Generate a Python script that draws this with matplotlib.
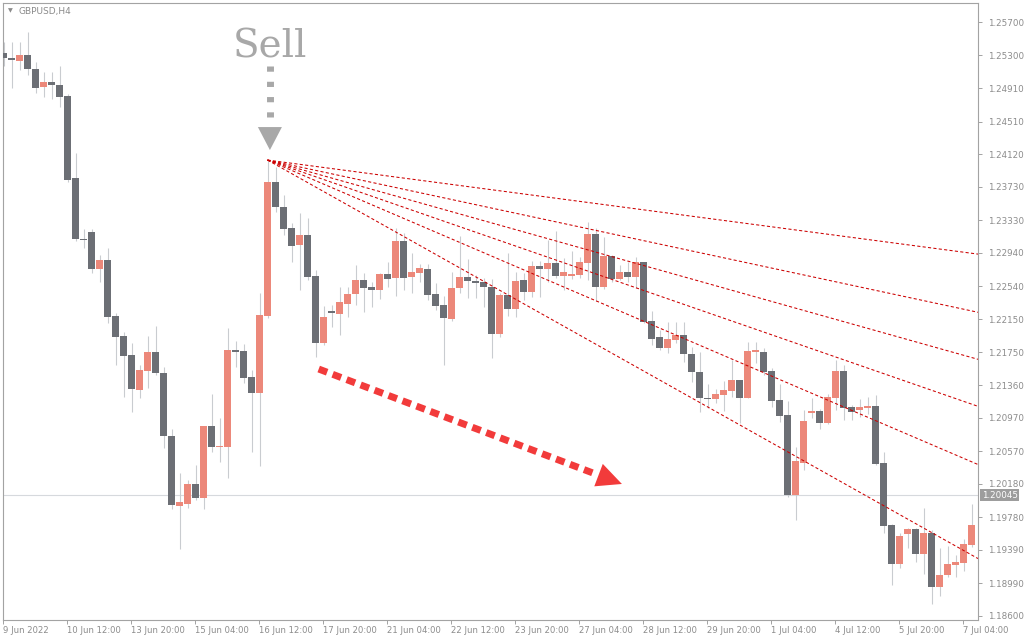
import numpy as np
import matplotlib
matplotlib.use("Agg")
import matplotlib.pyplot as plt
from matplotlib.patches import Polygon

# GBPUSD H4 candles, oldest first (bar 0 = 9 Jun 2022)
opens = [1.25329, 1.25269, 1.25234, 1.25305, 1.25138, 1.24923, 1.24983, 1.24947, 1.24815, 1.23835,
         1.23106, 1.23190, 1.22747, 1.22855, 1.22186, 1.21946, 1.21719, 1.21301, 1.21528, 1.21755,
         1.21504, 1.20751, 1.19915, 1.19939, 1.20178, 1.20011, 1.20871, 1.20620, 1.20620, 1.21779,
         1.21767, 1.21457, 1.21265, 1.22186, 1.23787, 1.23489, 1.23237, 1.23034, 1.23154, 1.22664,
         1.21863, 1.22246, 1.22210, 1.22329, 1.22449, 1.22616, 1.22532, 1.22497, 1.22688, 1.22640,
         1.23082, 1.22652, 1.22700, 1.22747, 1.22449, 1.22317, 1.22150, 1.22520, 1.22652, 1.22604,
         1.22592, 1.22532, 1.21970, 1.22437, 1.22270, 1.22616, 1.22473, 1.22783, 1.22747, 1.22819,
         1.22664, 1.22664, 1.22676, 1.22819, 1.23166, 1.22532, 1.22903, 1.22628, 1.22712, 1.22652,
         1.22831, 1.22126, 1.21934, 1.21803, 1.21899, 1.21958, 1.21731, 1.21516, 1.21205, 1.21194,
         1.21241, 1.21289, 1.21421, 1.21205, 1.21755, 1.21755, 1.21528, 1.21182, 1.21003, 1.20046,
         1.20429, 1.21026, 1.21050, 1.20907, 1.21205, 1.21528, 1.21098, 1.21062, 1.21086, 1.21110,
         1.20429, 1.19687, 1.19221, 1.19580, 1.19640, 1.19341, 1.19592, 1.18946, 1.19090, 1.19209,
         1.19233, 1.19448]
highs = [1.25461, 1.25461, 1.25461, 1.25580, 1.25222, 1.25102, 1.25102, 1.25174, 1.24839, 1.24134,
         1.23225, 1.23225, 1.22915, 1.22998, 1.22222, 1.21994, 1.21863, 1.21600, 1.21946, 1.22066,
         1.21576, 1.20835, 1.20309, 1.20226, 1.20405, 1.20871, 1.21253, 1.20967, 1.22042, 1.21887,
         1.21851, 1.21540, 1.22461, 1.24050, 1.23967, 1.23632, 1.23297, 1.23417, 1.23357, 1.22736,
         1.22305, 1.22317, 1.22532, 1.22532, 1.22795, 1.22700, 1.22592, 1.22700, 1.22831, 1.23237,
         1.23178, 1.22939, 1.22807, 1.22807, 1.22580, 1.22425, 1.22712, 1.23142, 1.22867, 1.22676,
         1.22640, 1.22628, 1.22461, 1.22939, 1.22712, 1.22700, 1.22843, 1.22843, 1.23094, 1.23202,
         1.22879, 1.22963, 1.22891, 1.23309, 1.23237, 1.23130, 1.22915, 1.22795, 1.22831, 1.22891,
         1.22831, 1.22246, 1.22018, 1.22114, 1.22114, 1.22114, 1.21815, 1.21755, 1.21373, 1.21313,
         1.21409, 1.21660, 1.21421, 1.21875, 1.21875, 1.21803, 1.21564, 1.21373, 1.21170, 1.20620,
         1.21062, 1.21205, 1.21074, 1.21253, 1.21660, 1.21600, 1.21122, 1.21194, 1.21217, 1.21241,
         1.20560, 1.19699, 1.19592, 1.19652, 1.19652, 1.19891, 1.19628, 1.19413, 1.19436, 1.19329,
         1.19520, 1.19939]
lows = [1.25174, 1.24911, 1.25126, 1.25066, 1.24851, 1.24803, 1.24779, 1.24684, 1.23787, 1.23082,
        1.22998, 1.22700, 1.22592, 1.22102, 1.21600, 1.21217, 1.21038, 1.21205, 1.21325, 1.21480,
        1.20608, 1.19879, 1.19401, 1.19891, 1.19987, 1.19879, 1.20560, 1.20441, 1.20250, 1.21576,
        1.21385, 1.20560, 1.20393, 1.22162, 1.23429, 1.23154, 1.22831, 1.22497, 1.22616, 1.21695,
        1.21839, 1.22054, 1.21958, 1.22174, 1.22317, 1.22234, 1.22293, 1.22389, 1.22532, 1.22425,
        1.22497, 1.22461, 1.22592, 1.22377, 1.22258, 1.21600, 1.22126, 1.22461, 1.22401, 1.22401,
        1.22293, 1.21683, 1.21934, 1.22186, 1.22174, 1.22377, 1.22413, 1.22413, 1.22592, 1.22640,
        1.22497, 1.22628, 1.22640, 1.22616, 1.22365, 1.22509, 1.22592, 1.22616, 1.22592, 1.22520,
        1.22102, 1.21839, 1.21779, 1.21743, 1.21863, 1.21636, 1.21397, 1.21038, 1.21086, 1.21146,
        1.21050, 1.21217, 1.20907, 1.21205, 1.21624, 1.21480, 1.21098, 1.20919, 1.20022, 1.19747,
        1.20345, 1.20967, 1.20835, 1.20895, 1.21062, 1.20943, 1.20943, 1.20979, 1.21014, 1.20405,
        1.19592, 1.18970, 1.19174, 1.19412, 1.19245, 1.19102, 1.18743, 1.18839, 1.19066, 1.19066,
        1.19138, 1.19424]
closes = [1.25269, 1.25246, 1.25305, 1.25138, 1.24911, 1.24983, 1.24947, 1.24803, 1.23811, 1.23106,
          1.23094, 1.22747, 1.22855, 1.22174, 1.21934, 1.21707, 1.21313, 1.21540, 1.21755, 1.21504,
          1.20751, 1.19927, 1.19963, 1.20178, 1.20011, 1.20871, 1.20620, 1.20632, 1.21779, 1.21755,
          1.21445, 1.21265, 1.22198, 1.23787, 1.23489, 1.23225, 1.23022, 1.23154, 1.22652, 1.21863,
          1.22174, 1.22222, 1.22353, 1.22449, 1.22616, 1.22520, 1.22497, 1.22688, 1.22628, 1.23082,
          1.22640, 1.22712, 1.22759, 1.22437, 1.22305, 1.22162, 1.22520, 1.22652, 1.22604, 1.22580,
          1.22532, 1.21970, 1.22437, 1.22270, 1.22604, 1.22473, 1.22783, 1.22747, 1.22819, 1.22664,
          1.22712, 1.22688, 1.22831, 1.23166, 1.22532, 1.22903, 1.22628, 1.22712, 1.22652, 1.22831,
          1.22114, 1.21911, 1.21803, 1.21911, 1.21958, 1.21731, 1.21516, 1.21205, 1.21194, 1.21253,
          1.21301, 1.21421, 1.21205, 1.21767, 1.21779, 1.21516, 1.21170, 1.20991, 1.20046, 1.20453,
          1.20931, 1.21050, 1.20907, 1.21217, 1.21528, 1.21086, 1.21038, 1.21098, 1.21110, 1.20417,
          1.19675, 1.19221, 1.19556, 1.19640, 1.19341, 1.19592, 1.18946, 1.19090, 1.19221, 1.19245,
          1.19460, 1.19687]

price_labels = ['1.25700', '1.25300', '1.24910', '1.24510', '1.24120', '1.23730', '1.23330',
                '1.22940', '1.22540', '1.22150', '1.21750', '1.21360', '1.20970', '1.20570',
                '1.20180', '1.19780', '1.19390', '1.18990', '1.18600']
time_labels = ['9 Jun 2022', '10 Jun 12:00', '13 Jun 20:00', '15 Jun 04:00', '16 Jun 12:00',
               '17 Jun 20:00', '21 Jun 04:00', '22 Jun 12:00', '23 Jun 20:00', '27 Jun 04:00',
               '28 Jun 12:00', '29 Jun 20:00', '1 Jul 04:00', '4 Jul 12:00', '5 Jul 20:00',
               '7 Jul 04:00']
bars_per_label = 8
last_price = 1.20045

# fibo fan drawn from the sell high
fan_start = (33, 1.24050)
fan_end = (121, 1.19330)
fan_levels = [0.236, 0.382, 0.5, 0.618, 0.764, 1.0]

# the big "trend" arrow (bar index, price)
trend_from = (39.4, 1.21552)
trend_to = (77.3, 1.20178)
sell_bar = 33.3

BEAR = '#6c6f75'
BULL = '#ec887a'
WICK = '#c9ccd0'
FRAME = '#a3a3a3'
TXT = '#8c8c8c'
RED = '#f23b3b'
GREY_ARROW = '#a8a8a8'

fig = plt.figure(figsize=(10.24, 6.4), dpi=100)
fig.patch.set_facecolor('white')
ax = fig.add_axes([2.7 / 1024, 20.5 / 640, 975.3 / 1024, 616.8 / 640])
ax.set_xlim(-0.1, 121.81)
ax.set_ylim(1.18558, 1.25931)

n = len(opens)
idx = np.arange(n)
o = np.array(opens)
c = np.array(closes)
bull = c > o
cols = [BULL if b else BEAR for b in bull]
bottoms = np.minimum(o, c)
heights = np.maximum(np.abs(c - o), 0.0001)

ax.axhline(last_price, color='#d6d9dd', lw=0.8, zorder=1)
ax.vlines(idx, lows, highs, colors=WICK, linewidth=0.8, zorder=2)
ax.bar(idx, heights, bottom=bottoms, width=0.86, color=cols, linewidth=0, zorder=3)

# fan lines
x_right = ax.get_xlim()[1]
i0, p0 = fan_start
i1, p1 = fan_end
for lev in fan_levels:
    slope = -lev * (p0 - p1) / (i1 - i0)
    ax.plot([i0, x_right], [p0, p0 + slope * (x_right - i0)],
            color='#cc0000', lw=0.75, ls=(0, (3, 2.2)), zorder=4)

# dashed red arrow (built in pixel space, then back to data)
tr = ax.transData
inv = tr.inverted()
a = tr.transform(trend_from)
b = tr.transform(trend_to)
d = (b - a) / np.hypot(*(b - a))
nrm = np.array([-d[1], d[0]])
base = b - 25 * d
head = inv.transform([b, base + 12 * nrm, base - 12 * nrm])
ax.add_patch(Polygon(head, closed=True, facecolor=RED, edgecolor='none', zorder=5))
shaft = inv.transform([a, b - 31 * d])
ax.plot(shaft[:, 0], shaft[:, 1], color=RED, lw=5, ls=(0, (1.3, 0.85)),
        dash_capstyle='butt', zorder=5)

# grey "sell" arrow above the high
top = tr.transform((sell_bar, highs[33]))
g_tri = inv.transform([top + [0, 10], top + [-12, 33], top + [12, 33]])
ax.add_patch(Polygon(g_tri, closed=True, facecolor=GREY_ARROW, edgecolor='none', zorder=5))
g_line = inv.transform([top + [0, 94], top + [0, 43]])
ax.plot(g_line[:, 0], g_line[:, 1], color=GREY_ARROW, lw=5, ls=(0, (0.75, 1.45)),
        dash_capstyle='butt', zorder=5)
ax.annotate('Sell', xy=(sell_bar, highs[33]), xytext=(0, 103), textcoords='offset pixels',
            ha='center', va='baseline', fontsize=28, family='DejaVu Serif', color=GREY_ARROW)

# axes styling
for s in ax.spines.values():
    s.set_color(FRAME)
    s.set_linewidth(0.8)
ax.yaxis.tick_right()
ax.set_yticks([float(v) for v in price_labels])
ax.set_yticklabels(price_labels)
ax.set_xticks(np.arange(len(time_labels)) * bars_per_label - 0.06)
ax.set_xticklabels(time_labels)
for lab in ax.get_xticklabels():
    lab.set_ha('left')
ax.tick_params(axis='y', direction='out', length=3, width=0.7, color=FRAME,
               labelsize=6.3, labelcolor=TXT, pad=4)
ax.tick_params(axis='x', direction='out', length=3, width=0.7, color=FRAME,
               labelsize=6.1, labelcolor=TXT, pad=2)

# current price box
ax.text(1.004, last_price, '1.20045', transform=ax.get_yaxis_transform(),
        ha='left', va='center', fontsize=6.3, color='white', zorder=6, clip_on=False,
        bbox=dict(boxstyle='square,pad=0.18', facecolor='#9d9d9d', edgecolor='none'))

# symbol caption
ax.text(0.005, 0.991, '\u25bc', transform=ax.transAxes, ha='left', va='top',
        fontsize=4.5, color='#8a8a8a')
ax.text(0.016, 0.993, 'GBPUSD,H4', transform=ax.transAxes, ha='left', va='top',
        fontsize=6.5, color='#8a8a8a')

fig.savefig('out.png', dpi=100, facecolor='white')
